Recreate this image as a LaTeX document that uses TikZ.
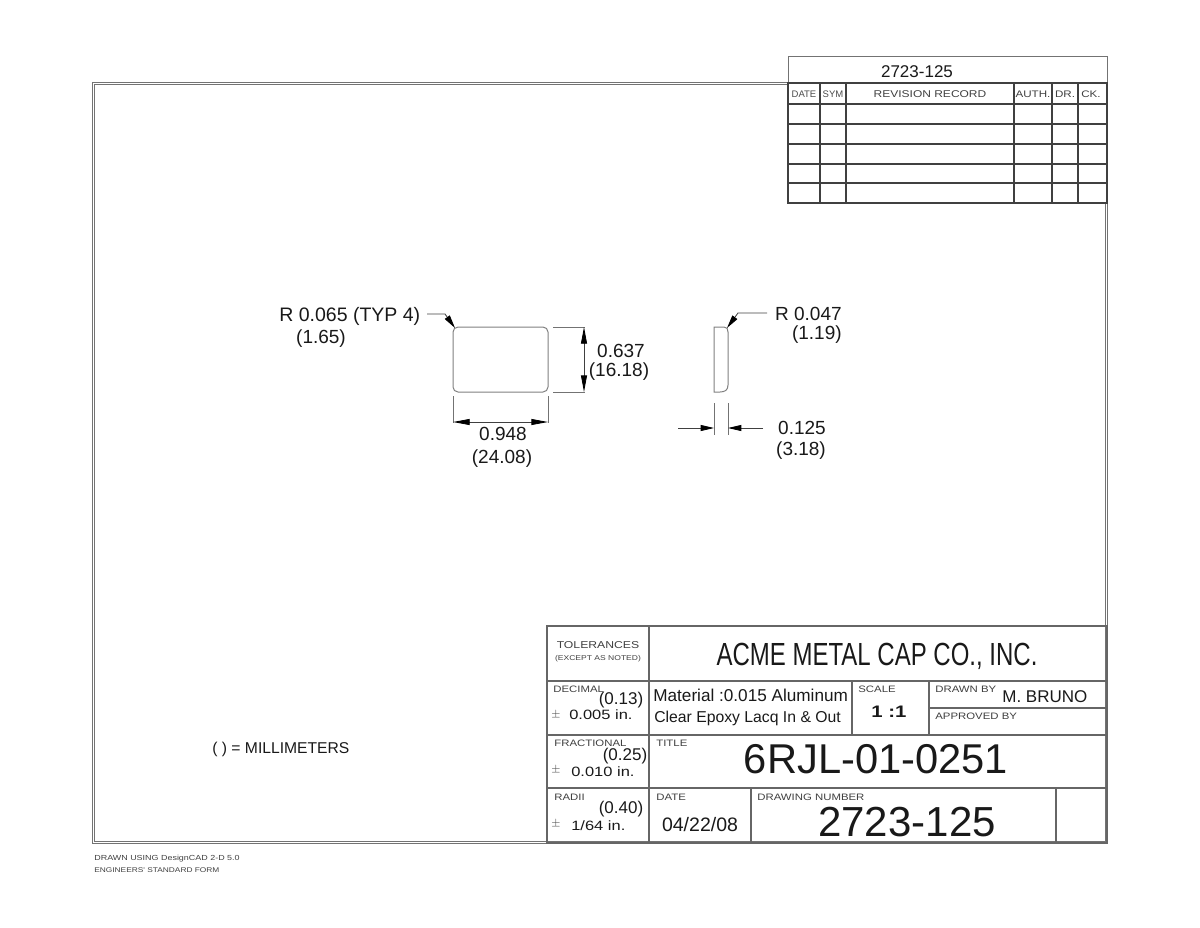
\documentclass[tikz,border=0pt]{standalone}
\usepackage{fontspec}
\setmainfont{Liberation Sans}
\newfontfamily\widefont[FakeStretch=1.22]{Liberation Sans}
\newfontfamily\narrowfont[FakeStretch=0.75]{Liberation Sans}
\usetikzlibrary{arrows.meta}
\tikzset{
	lbl/.style={inner sep=0, text=black!90},
	dimtxt/.style={lbl, font=\fontsize{11.4}{12}\selectfont},
	dimwide/.style={lbl, font=\fontsize{11.7}{12}\selectfont},
	tiny/.style={lbl, anchor=west, text=black!75, font=\widefont\fontsize{5.6}{6}\selectfont},
	head/.style={lbl, text=black!70, font=\fontsize{5.7}{6}\selectfont},
	headwide/.style={lbl, text=black!75, font=\widefont\fontsize{5.7}{6}\selectfont},
	tol/.style={lbl, font=\fontsize{10.2}{11}\selectfont},
	tolin/.style={lbl, anchor=west, font=\widefont\fontsize{8.1}{9}\selectfont},
	plusminus/.style={lbl, text=black!70, font=\fontsize{5.6}{6}\selectfont},
	grid/.style={black!75, line width=0.7pt},
	titlegrid/.style={black!60, line width=0.7pt},
	frame/.style={black!55, line width=0.6pt},
	part/.style={black!50, line width=0.6pt},
	dim/.style={black!55, line width=0.5pt},
	leader/.style={black!75, line width=0.5pt},
	bigtip/.style={-{Triangle[length=10pt,width=3.6pt,black]}},
	smalltip/.style={-{Triangle[length=8pt,width=3.6pt,black]}}
}
\begin{document}
\begin{tikzpicture}[x=0.6pt, y=-0.6pt]
	\useasboundingbox (0, 0) rectangle (1200, 927);

	% sheet border
	\draw[frame] (92, 82) rectangle (1107, 843);
	\draw[frame] (94, 84) rectangle (1105, 841);

	% revision block
	\draw[fill=white, draw=none] (788, 56) rectangle (1107, 203);
	\draw[frame] (788, 56) rectangle (1107, 83);
	\draw[grid] (788, 83) rectangle (1107, 203);
	\foreach \y in {104, 124, 144, 164, 183}
		\draw[grid] (788, \y) -- (1107, \y);
	\foreach \x in {820, 846, 1014, 1052, 1078}
		\draw[grid] (\x, 83) -- (\x, 203);
	\node[lbl, font=\fontsize{10.2}{11}\selectfont] (revno) at (917, 72) {2723-125};
	\node[head] (revdate) at (804, 94) {DATE};
	\node[head] (revsym) at (833, 94) {SYM};
	\node[headwide, font=\widefont\fontsize{5.9}{6}\selectfont] (revrecord) at (930, 94) {REVISION RECORD};
	\node[headwide] (revauth) at (1033, 94) {AUTH.};
	\node[headwide] (revdr) at (1065, 94) {DR.};
	\node[headwide] (revck) at (1091, 94) {CK.};

	% title block
	\draw[titlegrid] (547, 626) rectangle (1107, 843);
	\draw[titlegrid] (547, 681) -- (1107, 681);
	\draw[titlegrid] (547, 735) -- (1107, 735);
	\draw[titlegrid] (547, 788) -- (1107, 788);
	\draw[titlegrid] (649, 626) -- (649, 843);
	\draw[titlegrid] (852, 681) -- (852, 735);
	\draw[titlegrid] (929, 681) -- (929, 735);
	\draw[titlegrid] (929, 708) -- (1107, 708);
	\draw[titlegrid] (751, 788) -- (751, 843);
	\draw[titlegrid] (1056, 788) -- (1056, 843);

	\node[headwide, font=\widefont\fontsize{6}{7}\selectfont] (tolerances) at (598, 645) {TOLERANCES};
	\node[headwide, font=\widefont\fontsize{4.2}{5}\selectfont] (except) at (598, 659) {(EXCEPT AS NOTED)};
	\node[lbl, font=\narrowfont\fontsize{19.2}{20}\selectfont] (company) at (877, 656) {ACME METAL CAP CO., INC.};

	\node[tiny] (decimal) at (553, 689) {DECIMAL};
	\node[tol] (decmm) at (621, 700) {(0.13)};
	\node[plusminus] (decpm) at (556, 715) {$\pm$};
	\node[tolin] (decin) at (569, 715) {0.005 in.};

	\node[lbl, anchor=west, font=\fontsize{10.3}{11}\selectfont] (material) at (653, 695) {Material :0.015 Aluminum};
	\node[lbl, anchor=west, font=\fontsize{9.45}{10}\selectfont] (finish) at (654, 718) {Clear Epoxy Lacq In \& Out};
	\node[tiny] (scale) at (858, 689) {SCALE};
	\node[lbl, font=\widefont\fontsize{10}{12}\selectfont] (ratio) at (889, 712) {\textbf{1 :1}};
	\node[tiny] (drawnby) at (935, 689) {DRAWN BY};
	\node[lbl, anchor=west, font=\fontsize{10.2}{11}\selectfont] (drawer) at (1002, 697) {M. BRUNO};
	\node[tiny] (approved) at (935, 716) {APPROVED BY};

	\node[tiny] (fractional) at (554, 743) {FRACTIONAL};
	\node[tol] (fracmm) at (625, 756) {(0.25)};
	\node[plusminus] (fracpm) at (556, 770) {$\pm$};
	\node[tolin] (fracin) at (571, 772) {0.010 in.};
	\node[tiny] (titlelbl) at (656, 743) {TITLE};
	\node[lbl, font=\fontsize{25}{26}\selectfont] (title) at (876, 759) {6RJL-01-0251};

	\node[tiny] (radii) at (554, 797) {RADII};
	\node[tol] (radmm) at (621, 809) {(0.40)};
	\node[plusminus] (radpm) at (556, 824) {$\pm$};
	\node[tolin] (radin) at (571, 826) {1/64 in.};
	\node[tiny] (datelbl) at (656, 797) {DATE};
	\node[lbl, font=\fontsize{11.7}{12}\selectfont] (date) at (700, 825) {04/22/08};
	\node[tiny] (numberlbl) at (757, 797) {DRAWING NUMBER};
	\node[lbl, font=\fontsize{25.2}{26}\selectfont] (number) at (907, 822) {2723-125};

	% notes
	\node[lbl, anchor=west, font=\fontsize{9.4}{10}\selectfont] (units) at (212, 749) {( ) = MILLIMETERS};
	\node[tiny, font=\widefont\fontsize{4.4}{5}\selectfont] (drawnusing) at (94, 859) {DRAWN USING DesignCAD 2-D 5.0};
	\node[tiny, font=\widefont\fontsize{4.1}{5}\selectfont] (engform) at (94, 870) {ENGINEERS' STANDARD FORM};

	% front view
	\draw[part, rounded corners=3pt] (453, 327) rectangle (548, 392);
	\draw[dim] (553, 327) -- (585, 327);
	\draw[dim] (553, 392) -- (585, 392);
	\draw[dim] (453, 396) -- (453, 423);
	\draw[dim] (548, 396) -- (548, 423);
	\draw[leader, bigtip] (584, 360) -- (584, 327);
	\draw[leader, bigtip] (584, 360) -- (584, 392);
	\draw[leader, bigtip] (500, 422) -- (453, 422);
	\draw[leader, bigtip] (500, 422) -- (548, 422);
	\draw[leader, smalltip] (427, 314) -- (445, 314) -- (455, 328);
	\node[dimwide, anchor=west] (radfront) at (279, 316) {R 0.065 (TYP 4)};
	\node[dimtxt] (radfrontmm) at (321, 339) {(1.65)};
	\node[dimtxt] (height) at (621, 351) {0.637};
	\node[dimtxt] (heightmm) at (619, 372) {(16.18)};
	\node[dimtxt] (width) at (503, 434) {0.948};
	\node[dimtxt] (widthmm) at (502, 459) {(24.08)};

	% side view
	\draw[part] (714, 327) -- (724, 327) .. controls (727, 327) and (728, 329) .. (728, 332) -- (728, 385) .. controls (728, 390) and (725, 392) .. (720, 392) -- (714, 392) -- cycle;
	\draw[dim] (714, 403) -- (714, 435);
	\draw[dim] (728, 403) -- (728, 435);
	\draw[leader, smalltip] (678, 428) -- (714, 428);
	\draw[leader, smalltip] (763, 428) -- (728, 428);
	\draw[leader, smalltip] (767, 313) -- (738, 313) -- (727, 328);
	\node[dimtxt, anchor=east] (radside) at (842, 314) {R 0.047};
	\node[dimtxt, anchor=east] (radsidemm) at (842, 335) {(1.19)};
	\node[dimtxt] (thick) at (802, 428) {0.125};
	\node[dimtxt] (thickmm) at (801, 451) {(3.18)};
\end{tikzpicture}
\end{document}
